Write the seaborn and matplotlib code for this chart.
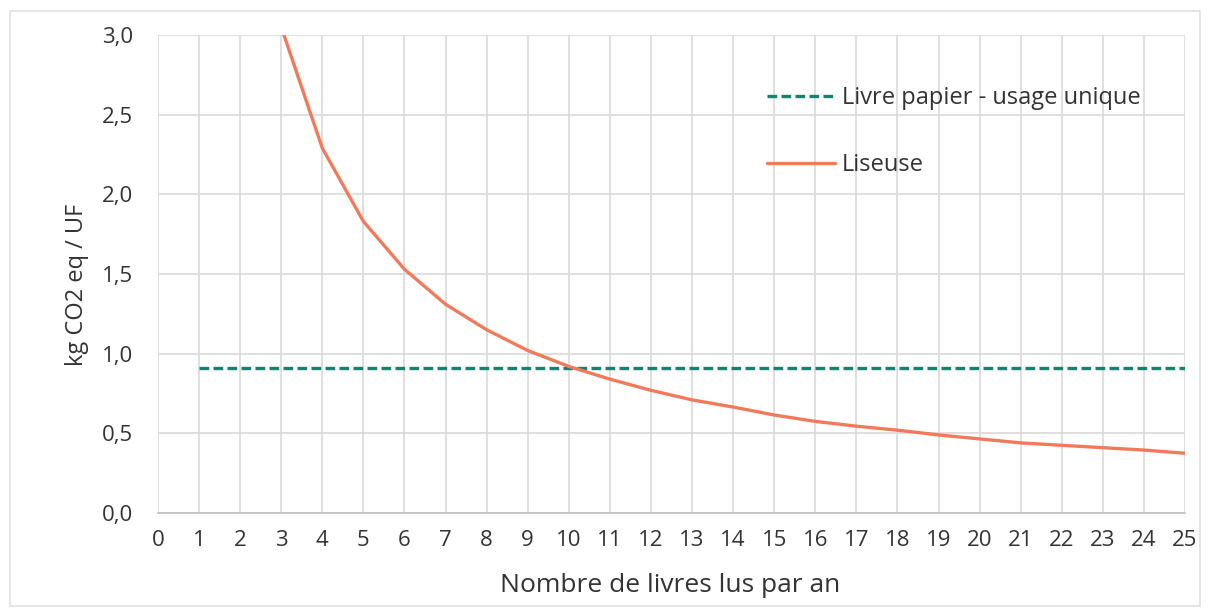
import matplotlib
matplotlib.use("Agg")
import matplotlib.pyplot as plt
import seaborn as sns
import pandas as pd
from matplotlib.patches import Rectangle

# Data
livres_x = [3, 4, 5, 6, 7, 8, 9, 10, 11, 12, 13, 14, 15, 16, 17, 18, 19, 20, 21, 22, 23, 24, 25]
liseuse_y = [3.05, 2.29, 1.83, 1.53, 1.31, 1.15, 1.02, 0.92, 0.84, 0.77, 0.71, 0.665, 0.615, 0.575,
             0.545, 0.52, 0.49, 0.465, 0.44, 0.425, 0.41, 0.395, 0.375]
papier_x = [1, 25]
papier_y = [0.91, 0.91]
x_ticks = list(range(0, 26))
y_ticks = [0.0, 0.5, 1.0, 1.5, 2.0, 2.5, 3.0]
y_tick_labels = ["0,0", "0,5", "1,0", "1,5", "2,0", "2,5", "3,0"]

sns.set_style("white")
plt.rcParams['font.family'] = ['Open Sans', 'DejaVu Sans']

fig = plt.figure(figsize=(12.1, 6.09), dpi=100)
ax = fig.add_axes([158/1210, 1 - 513/609, (1185-158)/1210, (513-35)/609])

df_p = pd.DataFrame({"x": papier_x, "y": papier_y})
df_l = pd.DataFrame({"x": livres_x, "y": liseuse_y})

sns.lineplot(data=df_p, x="x", y="y", ax=ax, color="#178070", linewidth=2.4,
             linestyle=(0, (2.9, 1.3)), label="Livre papier - usage unique")
sns.lineplot(data=df_l, x="x", y="y", ax=ax, color="#f07b5c", linewidth=2.4,
             label="Liseuse")

ax.set_xlim(0, 25)
ax.set_ylim(0, 3.0)
ax.set_xticks(x_ticks)
ax.set_xticklabels([str(t) for t in x_ticks])
ax.set_yticks(y_ticks)
ax.set_yticklabels(y_tick_labels)
ax.tick_params(axis="both", length=0, labelsize=16, colors="#333333")
ax.tick_params(axis="x", pad=12)
ax.tick_params(axis="y", pad=18)
ax.grid(True, color="#d9d9d9", linewidth=1.2)
for s in ["top", "right", "left"]:
    ax.spines[s].set_visible(False)
ax.spines["bottom"].set_color("#bfbfbf")
ax.spines["bottom"].set_linewidth(1.2)

ax.set_xlabel("Nombre de livres lus par an", fontsize=19, color="#333333")
ax.set_ylabel("kg CO2 eq / UF", fontsize=17, color="#333333")
ax.xaxis.set_label_coords((670 - 158) / 1027, -(585 - 513) / 478)
ax.yaxis.set_label_coords((77 - 158) / 1027, (513 - 285) / 478)
ax.xaxis.label.set_verticalalignment("center")
ax.yaxis.label.set_verticalalignment("center")

leg = ax.legend(loc="upper left", bbox_to_anchor=(0.572, 0.937), frameon=False,
                fontsize=17, handlelength=2.9, labelspacing=1.8, handletextpad=0.3)
for t in leg.get_texts():
    t.set_color("#333333")

fig.patches.append(Rectangle((10/1210, 0.005), 1190/1210, 1 - 11/609 - 0.005,
                             transform=fig.transFigure, fill=False,
                             edgecolor="#e0e0e0", linewidth=1.2))

fig.savefig("out.png", dpi=100)
